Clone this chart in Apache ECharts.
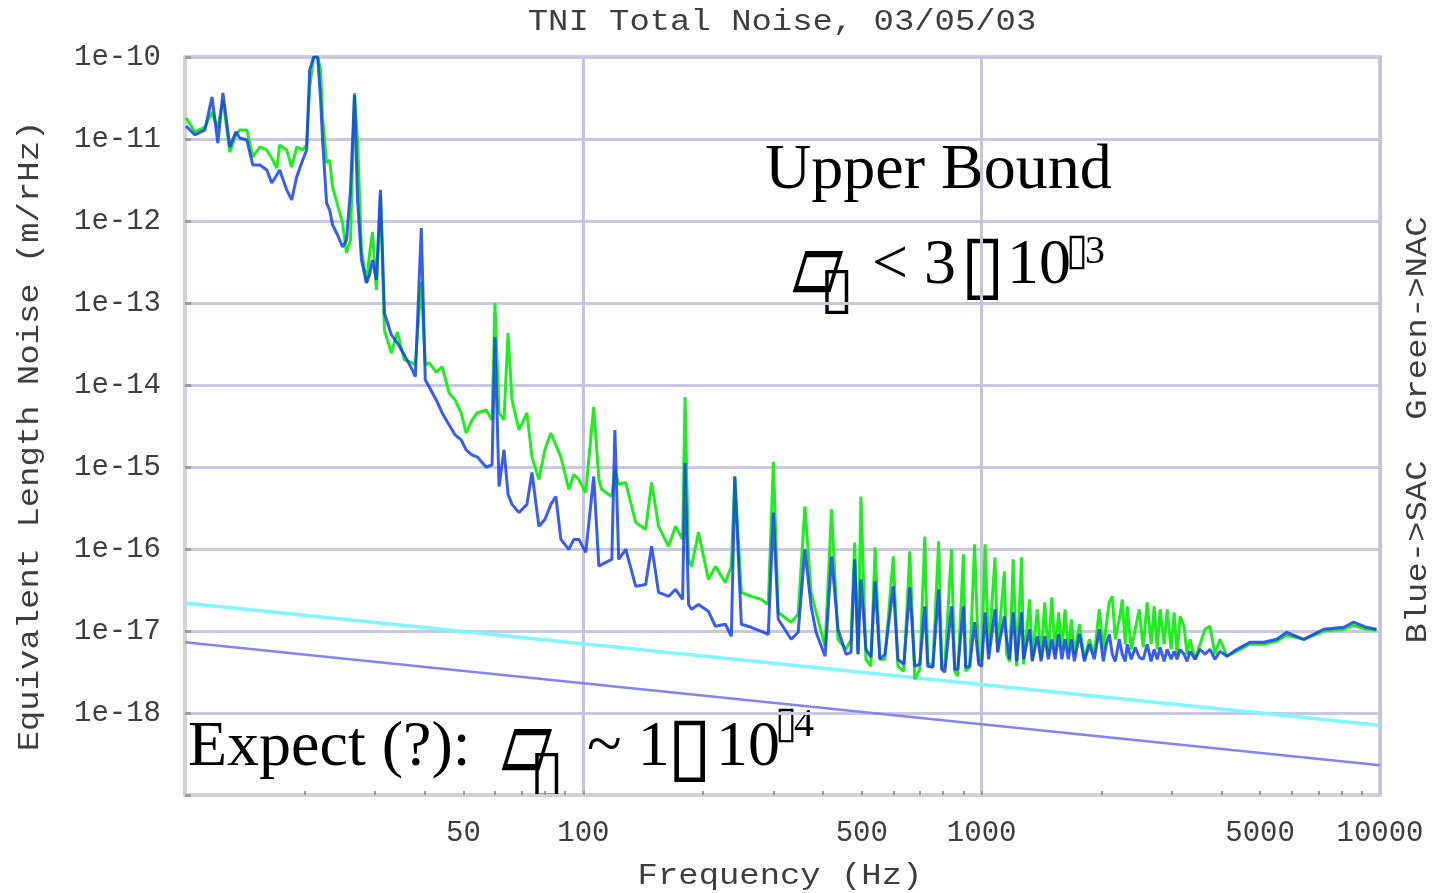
<!DOCTYPE html>
<html>
<head>
<meta charset="utf-8">
<script src="https://cdn.jsdelivr.net/npm/echarts@6/dist/echarts.min.js"></script>
<style>
html,body{margin:0;padding:0;background:#fff;}
#chart{width:1435px;height:893px;}
</style>
</head>
<body>
<div id="chart"></div>
<script>
// ---- data (frequency in Hz, noise in m/rHz) ----
const freq = [10.06,10.59,11.22,11.69,12.09,12.45,12.96,13.42,13.73,14.30,14.80,15.41,16.05,16.51,17.00,17.29,18.00,18.53,19.07,19.74,
20.20,20.56,21.04,21.53,21.90,22.15,22.67,23.07,23.47,24.16,24.86,25.44,26.03,26.64,27.11,27.74,28.55,29.05,29.55,30.24,
30.95,31.67,32.97,34.13,35.53,37.21,37.86,39.19,40.11,41.04,42.73,44.23,46.05,47.67,49.35,50.79,52.58,54.12,57.00,59.00,
60.0,61.44,63.23,64.71,66.22,68.94,72.19,74.30,77.36,80.08,82.90,85.32,87.82,91.96,94.65,97.44,101.4,106.2,109.4,111.3,
117.9,120.0,122.7,127.8,135.4,143.4,148.4,154.5,163.7,170.4,177.5,180.0,183.7,186.9,194.6,206.1,214.6,227.3,235.3,240.0,
249.3,264.1,279.7,291.3,300,308.5,332.5,346.2,360,373.1,384.0,404.5,420,435.9,456.5,469.8,480,489.2,497.7,512.3,
527.2,540,555.3,571.6,600,616.1,637.7,660,679.4,699.3,720,732.3,753.7,780,794.1,808.0,840,855.9,870.8,900,
911.9,933.1,960,982.9,1000,1020,1041,1080,1097,1140,1155,1175,1200,1224,1260,1274,1320,1340,1380,1410,
1440,1470,1500,1530,1560,1590,1620,1650,1680,1709,1760,1811,1864,1918,1974,2020,2056,2091,2128,2165,
2216,2254,2293,2320,2374,2430,2486,2544,2603,2664,2711,2758,2806,2871,2922,2990,3042,3095,3149,3222,
3278,3336,3433,3533,3636,3742,3852,3965,4128,4373,4713,5109,5507,5833,6433,7222,8102,8581,9249,9800];

const greenNoise = [1.81e-11,1.22e-11,1.40e-11,2.14e-11,1.36e-11,3.0e-11,6.95e-12,1.12e-11,1.29e-11,1.29e-11,6.04e-12,7.99e-12,7.35e-12,5.87e-12,4.43e-12,8.45e-12,7.35e-12,4.56e-12,7.99e-12,7.35e-12,
8.45e-12,4.31e-11,1.0e-10,1.0e-10,6.95e-11,1.86e-11,5.10e-12,5.55e-12,2.60e-12,1.57e-12,9.46e-13,4.08e-13,5.87e-13,3.64e-11,9.72e-12,4.43e-13,1.76e-13,3.85e-13,7.35e-13,1.44e-13,
2.08e-12,4.69e-14,2.46e-14,4.43e-14,2.02e-14,1.86e-14,1.76e-14,1.81e-13,1.76e-14,1.86e-14,1.44e-14,1.66e-14,7.99e-15,6.57e-15,4.56e-15,2.60e-15,3.75e-15,4.56e-15,4.96e-15,3.75e-15,
1.0e-13,4.56e-15,3.75e-15,4.31e-14,6.57e-15,2.83e-15,4.56e-15,1.33e-15,7.05e-16,1.62e-15,2.60e-15,1.86e-15,1.33e-15,5.32e-16,8.1e-16,7.05e-16,4.89e-16,5.40e-15,7.05e-16,5.32e-16,
4.37e-16,9.3e-16,6.12e-16,6.47e-16,2.11e-16,1.74e-16,6.47e-16,1.89e-16,1.08e-16,1.89e-16,1.31e-16,7.14e-15,7.47e-17,6.14e-17,1.60e-16,4.26e-17,6.14e-17,3.92e-17,6.14e-17,7.66e-16,
2.96e-17,2.64e-17,2.43e-17,2.11e-17,1.15e-15,1.69e-17,1.28e-17,1.60e-17,3.3e-16,2.96e-17,1.69e-17,6.51e-18,3.04e-16,7.92e-18,5.98e-18,7.92e-18,1.20e-16,5.20e-18,4.37e-16,4.52e-18,
3.71e-18,1.05e-16,4.52e-18,4.52e-18,8.12e-17,3.71e-18,3.23e-18,9.35e-17,2.58e-18,3.41e-18,1.42e-16,4.16e-18,3.61e-18,1.24e-16,3.41e-18,3.71e-18,9.9e-17,3.23e-18,2.81e-18,8.6e-17,
3.23e-18,3.61e-18,1.14e-16,4.27e-18,4.52e-18,1.14e-16,5.20e-18,7.9e-17,5.50e-18,5.33e-17,5.20e-18,4.27e-18,7.47e-17,3.71e-18,7.9e-17,3.93e-18,2.43e-17,4.52e-18,1.84e-17,4.52e-18,
2.24e-17,4.92e-18,2.57e-17,5.20e-18,1.69e-17,5.98e-18,1.84e-17,5.50e-18,1.39e-17,5.20e-18,1.21e-17,4.52e-18,7.92e-18,5.20e-18,1.84e-17,5.98e-18,1.21e-17,2.24e-17,2.64e-17,7.92e-18,
1.39e-17,2.43e-17,6.89e-18,2.0e-17,5.98e-18,1.05e-17,1.84e-17,6.33e-18,2.24e-17,6.89e-18,2.0e-17,5.98e-18,1.84e-17,6.89e-18,1.84e-17,5.98e-18,1.69e-17,5.20e-18,1.51e-17,1.14e-17,
5.20e-18,7.92e-18,4.52e-18,6.89e-18,1.05e-17,1.14e-17,5.20e-18,7.92e-18,4.92e-18,5.66e-18,6.89e-18,6.89e-18,7.49e-18,8.86e-18,7.92e-18,9.9e-18,1.05e-17,1.17e-17,1.05e-17,1.02e-17];

const blueNoise = [1.44e-11,1.12e-11,1.29e-11,3.26e-11,8.94e-12,3.64e-11,7.99e-12,1.22e-11,1.03e-11,9.72e-12,4.82e-12,4.82e-12,4.19e-12,2.91e-12,3.64e-12,4.19e-12,2.40e-12,1.81e-12,3.45e-12,5.55e-12,
7.35e-12,6.95e-11,1.0e-10,1.0e-10,3.0e-11,9.72e-12,1.66e-12,1.36e-12,8.94e-13,6.75e-13,4.82e-13,5.87e-13,2.40e-12,3.45e-11,1.81e-12,3.35e-13,1.76e-13,2.20e-13,3.35e-13,1.91e-13,
2.40e-12,7.56e-14,4.08e-14,3.26e-14,2.33e-14,1.53e-14,1.26e-14,8.22e-13,1.15e-14,9.46e-15,6.57e-15,4.56e-15,3.26e-15,2.46e-15,2.14e-15,1.62e-15,1.40e-15,1.33e-15,1.0e-15,1.06e-15,
3.85e-14,5.79e-16,1.62e-15,4.62e-16,3.5e-16,2.79e-16,3.5e-16,8.57e-16,1.89e-16,2.29e-16,3.5e-16,4.37e-16,1.31e-16,9.9e-17,1.31e-16,1.31e-16,9.09e-17,7.66e-16,6.14e-17,6.49e-17,
7.47e-17,2.83e-15,7.47e-17,9.9e-17,3.50e-17,3.70e-17,1.08e-16,2.96e-17,2.64e-17,3.22e-17,2.43e-17,1.12e-15,2.11e-17,1.84e-17,2.11e-17,1.74e-17,1.14e-17,1.21e-17,8.62e-18,7.66e-16,
1.21e-17,1.11e-17,9.9e-18,9.11e-18,2.79e-16,1.39e-17,7.92e-18,9.64e-18,9.9e-17,2.0e-17,9.64e-18,4.92e-18,8.12e-17,1.05e-17,5.20e-18,5.50e-18,7.47e-17,5.20e-18,4.26e-17,5.98e-18,
4.78e-18,4.03e-17,4.52e-18,5.20e-18,3.50e-17,4.52e-18,3.93e-18,3.40e-17,3.71e-18,3.93e-18,2.0e-17,3.71e-18,3.61e-18,3.22e-17,3.41e-18,3.14e-18,2.0e-17,3.41e-18,3.41e-18,2.0e-17,
3.61e-18,3.71e-18,1.28e-17,3.93e-18,3.71e-18,1.69e-17,4.52e-18,1.84e-17,5.50e-18,1.51e-17,7.92e-18,4.52e-18,1.69e-17,4.27e-18,1.69e-17,4.52e-18,1.05e-17,4.27e-18,8.62e-18,4.27e-18,
8.62e-18,4.52e-18,7.92e-18,4.52e-18,9.11e-18,4.52e-18,7.92e-18,4.52e-18,7.92e-18,4.27e-18,9.11e-18,4.27e-18,6.89e-18,4.52e-18,1.05e-17,4.27e-18,6.89e-18,9.11e-18,5.20e-18,4.27e-18,
7.92e-18,5.20e-18,4.27e-18,6.89e-18,4.52e-18,6.33e-18,4.78e-18,4.52e-18,6.89e-18,4.27e-18,5.98e-18,4.52e-18,6.33e-18,4.27e-18,5.98e-18,4.52e-18,5.66e-18,4.52e-18,5.98e-18,5.20e-18,
4.27e-18,5.66e-18,4.52e-18,5.98e-18,5.20e-18,5.98e-18,4.52e-18,5.66e-18,4.92e-18,5.98e-18,7.28e-18,7.28e-18,7.92e-18,9.64e-18,7.92e-18,1.05e-17,1.11e-17,1.28e-17,1.11e-17,1.05e-17];

// straight reference lines (end points)
const refFreq = [10, 10000];
const cyanRef = [2.19e-17, 7.1e-19];
const purpleRef = [7.28e-18, 2.31e-19];

// axis ticks / labels
const xLabelValues = [50, 100, 500, 1000, 5000, 10000];
const xTickValues = [20,30,40,50,60,70,80,90,100,200,300,400,500,600,700,800,900,1000,2000,3000,4000,5000,6000,7000,8000,9000];

const titleText = 'TNI Total Noise, 03/05/03';
const xName = 'Frequency (Hz)';
const yName = 'Equivalent Length Noise (m/rHz)';
const sideText = 'Blue->SAC  Green->NAC';

function pairs(xs, ys) { return xs.map((x, i) => [x, ys[i]]); }

const chart = echarts.init(document.getElementById('chart'), null, {renderer: 'canvas'});
const mono = '"Liberation Mono", "DejaVu Sans Mono", monospace';
const serif = '"Liberation Serif", "DejaVu Serif", serif';
const boxFont = '"DejaVu Sans", sans-serif';

function monoText(text, x, y, rot) {
  return {type: 'text', x: x, y: y, rotation: rot || 0, scaleX: 1.13,
    style: {text: text, font: '30px ' + mono, fill: '#3e3e3e', align: 'center', verticalAlign: 'middle', textAlign: 'center', textVerticalAlign: 'middle'}};
}
function serifText(text, x, y, size, align) {
  return {type: 'text', x: x, y: y,
    style: {text: text, font: size + 'px ' + serif, fill: '#000', align: align || 'left', verticalAlign: 'middle', textAlign: align || 'left', textVerticalAlign: 'middle'}};
}
function boxText(ch, x, y, size, sx, sy) {
  return {type: 'text', x: x, y: y, scaleX: sx || 1, scaleY: sy || 1,
    style: {text: ch, font: size + 'px ' + boxFont, fill: '#000', align: 'center', verticalAlign: 'middle', textAlign: 'center', textVerticalAlign: 'middle'}};
}

chart.setOption({
  animation: false,
  backgroundColor: '#fff',
  grid: {left: 185, right: 55, top: 57, bottom: 98, show: true, borderColor: '#a6a6ba', borderWidth: 3, backgroundColor: '#fff'},
  xAxis: [{
    type: 'log', logBase: 10, min: 10, max: 10000,
    axisLine: {show: true, onZero: false, lineStyle: {color: '#d2d2d2', width: 3}},
    axisTick: {show: true, inside: true, length: 4, customValues: xTickValues, lineStyle: {color: '#9a9a9a', width: 2}},
    axisLabel: {customValues: xLabelValues, margin: 24, fontFamily: mono, fontSize: 29, color: '#3e3e3e',
      showMinLabel: true, showMaxLabel: true, hideOverlap: false,
      formatter: function (v) { return String(Math.round(v)); }},
    splitLine: {show: false}
  }, {
    type: 'log', logBase: 10, min: 10, max: 10000, position: 'top',
    axisLine: {show: false}, axisTick: {show: false}, axisLabel: {show: false},
    splitLine: {show: true, lineStyle: {color: '#c4c4dc', width: 3}}
  }],
  yAxis: {
    type: 'log', logBase: 10, min: 1e-19, max: 1e-10,
    axisLine: {show: true, onZero: false, lineStyle: {color: '#d2d2d2', width: 3}},
    axisTick: {show: true, inside: true, length: 6, lineStyle: {color: '#9a9aa8', width: 3}},
    axisLabel: {margin: 24, fontFamily: mono, fontSize: 29, color: '#3e3e3e',
      formatter: function (v) { const e = Math.round(Math.log10(v)); return e === -19 ? '' : '1e' + e; }},
    splitLine: {show: true, lineStyle: {color: '#c8c8e0', width: 3}}
  },
  series: [
    {name: 'cyan', type: 'line', data: pairs(refFreq, cyanRef), showSymbol: false, silent: true,
      lineStyle: {color: '#80f6ff', width: 3.5}},
    {name: 'purple', type: 'line', data: pairs(refFreq, purpleRef), showSymbol: false, silent: true,
      lineStyle: {color: '#8484f0', width: 2.5}},
    {name: 'Green (NAC)', type: 'line', data: pairs(freq, greenNoise), showSymbol: false, silent: true,
      lineStyle: {color: '#1eee1e', width: 3}},
    {name: 'Blue (SAC)', type: 'line', data: pairs(freq, blueNoise), showSymbol: false, silent: true,
      lineStyle: {color: '#1640ee', width: 3, opacity: 0.85}}
  ],
  graphic: {elements: [
    monoText(titleText, 782, 22, 0),
    monoText(xName, 780, 876, 0),
    monoText(yName, 30, 436, Math.PI / 2),
    monoText(sideText, 1418, 430, Math.PI / 2),
    serifText('Upper Bound', 765, 171, 64),
    boxText('\u25B1', 818, 272, 66, 1.0, 1.7),
    boxText('\u25AF', 837, 292, 48, 1.3, 1.2),
    serifText('< 3', 872, 266, 64),
    boxText('\u25AF', 983, 269, 64, 1.3, 1.25),
    serifText('10', 1007, 266, 64),
    boxText('\u25AF', 1077, 253, 40, 1.0, 1.1),
    serifText('3', 1085, 252, 40),
    serifText('Expect (?):', 188, 748, 64),
    boxText('\u25B1', 527, 750, 66, 1.0, 1.7),
    boxText('\u25AF', 547, 775, 48, 1.3, 1.2),
    serifText('~ 1', 587, 748, 64),
    boxText('\u25AF', 690, 751, 64, 1.3, 1.25),
    serifText('10', 716, 748, 64),
    boxText('\u25AF', 786, 726, 40, 1.0, 1.1),
    serifText('4', 794, 725, 40)
  ]}
});
</script>
</body>
</html>
